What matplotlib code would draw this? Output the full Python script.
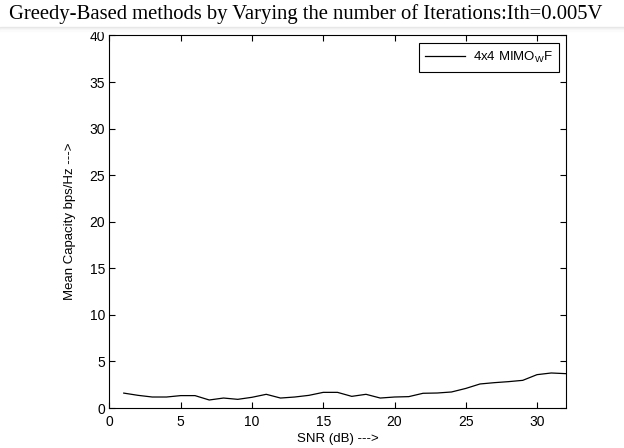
import matplotlib
matplotlib.use("Agg")
import matplotlib.pyplot as plt
from matplotlib.patches import Rectangle

snr_db = list(range(1, 33))
capacity = [1.60, 1.36, 1.18, 1.18, 1.33, 1.33, 0.86, 1.07, 0.93, 1.15,
            1.47, 1.07, 1.18, 1.36, 1.68, 1.68, 1.25, 1.47, 1.07, 1.18,
            1.22, 1.58, 1.61, 1.72, 2.10, 2.58, 2.72, 2.83, 2.97, 3.58,
            3.76, 3.69]
x_ticks = [0, 5, 10, 15, 20, 25, 30]
y_ticks = [0, 5, 10, 15, 20, 25, 30, 35, 40]
title = "Greedy-Based methods by Varying the number of Iterations:Ith=0.005V"
legend_label = "4x4 MIMO$_\\mathregular{W}$F"

W, H = 624, 448
fig = plt.figure(figsize=(W / 100, H / 100), dpi=100)
fig.patch.set_facecolor("white")

# title (outside the axes, serif)
fig.text(306 / W, 1 - 14 / H, title, ha="center", va="center",
         family="Liberation Serif", fontsize=14.9, color="black")
# faint separator band below the title
for i, c in enumerate(["#e6e6e6", "#efefef", "#f6f6f6", "#fbfbfb"]):
    fig.patches.append(Rectangle((0, 1 - (28 + i) / H), 1, 1 / H,
                                 transform=fig.transFigure, color=c, zorder=0))

ax = fig.add_axes([109.5 / W, (448 - 408) / H, (565.5 - 109.5) / W, (408 - 35.5) / H])
ax.plot(snr_db, capacity, color="black", linewidth=0.9, label=legend_label)
ax.set_xlim(0, 32)
ax.set_ylim(0, 40)
ax.set_xticks(x_ticks)
ax.set_yticks(y_ticks)
ax.tick_params(direction="in", top=True, right=True, length=4, width=0.8,
               labelsize=10, pad=3)
ax.tick_params(axis="x", pad=5)
for lab in ax.get_xticklabels() + ax.get_yticklabels():
    lab.set_family("Liberation Sans")
for s in ax.spines.values():
    s.set_linewidth(0.8)
ax.set_xlabel("SNR (dB) --->", family="Liberation Sans", fontsize=9.5, labelpad=3)
ax.set_ylabel("Mean Capacity bps/Hz --->", family="Liberation Sans", fontsize=9.5, labelpad=10)

leg = ax.legend(loc="upper right", bbox_to_anchor=(559.3 / W, 1 - 43.3 / H),
                bbox_transform=fig.transFigure, borderaxespad=0, fancybox=False,
                framealpha=1, edgecolor="black", handlelength=3.0,
                handletextpad=0.6, borderpad=0.5,
                prop={"family": "Liberation Sans", "size": 9.5})
leg.get_frame().set_linewidth(0.8)

fig.savefig("out.png", dpi=100)
